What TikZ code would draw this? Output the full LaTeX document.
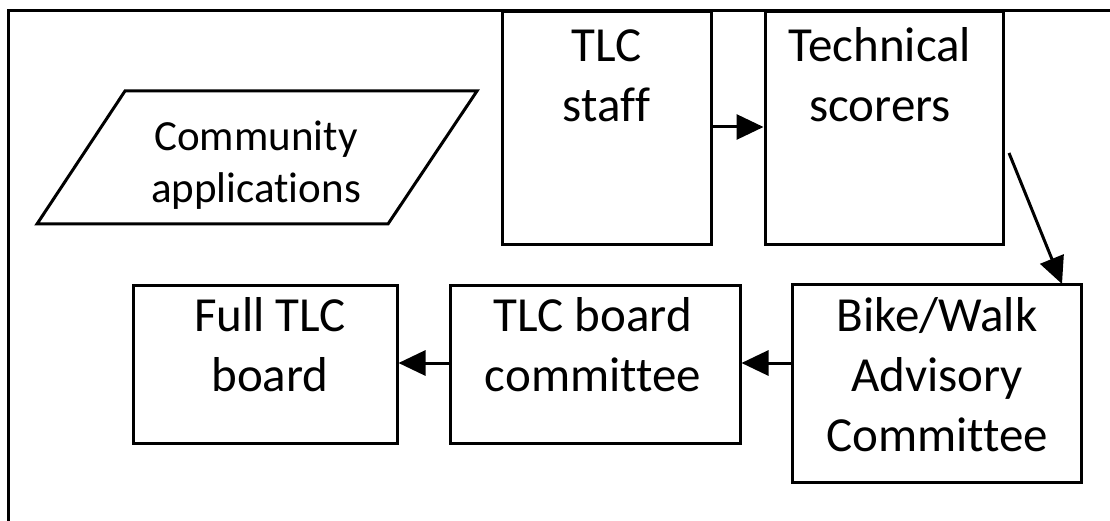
\documentclass[tikz,border=0pt]{standalone}
\usepackage{fontspec}
\setmainfont{Carlito}[Ligatures=NoCommon]
\usetikzlibrary{arrows.meta}
\begin{document}
\begin{tikzpicture}[x=1pt,y=-1pt,
  box/.style={draw, line width=3pt, rectangle, inner sep=0pt},
  txt/.style={align=center, inner sep=0pt, anchor=north, font=\fontsize{49}{60}\selectfont},
  arr/.style={line width=3pt, -{Triangle[length=27pt,width=25pt]}}]
\useasboundingbox (0,0) rectangle (1110,521);
% frame (only top and left edges are visible)
\draw[line width=3pt] (8.5,530) -- (8.5,10.5) -- (1120,10.5);
% input parallelogram
\draw[line width=3pt, line join=miter] (125,91) -- (477,91) -- (388,224) -- (37,224) -- cycle;
\node[txt, font=\fontsize{43}{52.5}\selectfont] (tcomm) at (256,113.2) {\strut Community\\\strut applications};
% boxes
\node[box, minimum width=209pt, minimum height=233pt] (staff) at (606.5,128.5) {};
\node[txt] (tstaff) at (606.5,19) {\strut TLC\\\strut staff};
\node[box, minimum width=238pt, minimum height=233pt] (tech) at (884,128.5) {};
\node[txt] (ttech) at (880,19) {\strut Technical\\\strut scorers};
\node[box, minimum width=289pt, minimum height=198pt] (bike) at (936.5,383) {};
\node[txt] (tbike) at (937,289) {\strut Bike/Walk\\\strut Advisory\\\strut Committee};
\node[box, minimum width=290pt, minimum height=158pt] (comm) at (595,364) {};
\node[txt] (tcommittee) at (593,289) {\strut TLC board\\\strut committee};
\node[box, minimum width=264pt, minimum height=158pt] (full) at (265,364) {};
\node[txt] (tfull) at (270,289) {\strut Full TLC\\\strut board};
% connectors
\coordinate (s3) at (1009,153);
\coordinate (e3) at (1062,284);
\draw[arr] (staff.east |- 0,127) -- (tech.west |- 0,127);
\draw[arr] (s3) -- (e3);
\draw[arr] (bike.west |- 0,363) -- (comm.east |- 0,363);
\draw[arr] (comm.west |- 0,363) -- (full.east |- 0,363);
\end{tikzpicture}
\end{document}
